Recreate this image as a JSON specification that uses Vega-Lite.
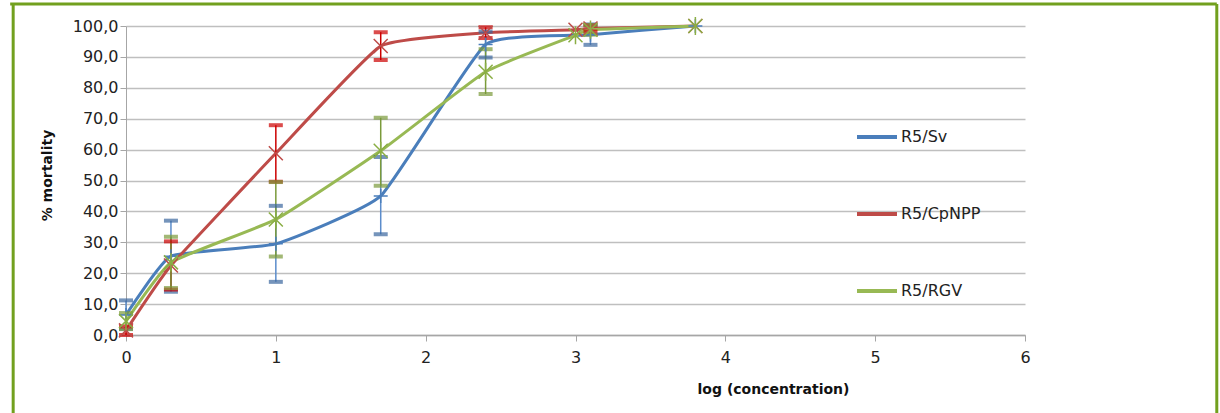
{
  "$schema": "https://vega.github.io/schema/vega-lite/v6.json",
  "width": 899,
  "height": 309,
  "autosize": {"type": "none"},
  "padding": {"left": 126, "top": 26, "right": 195, "bottom": 78},
  "background": "white",
  "config": {
    "view": {"stroke": null},
    "font": "DejaVu Sans",
    "axisX": {
      "grid": false,
      "domainColor": "#A6A6A6", "domainWidth": 1.5,
      "tickColor": "#A6A6A6", "tickSize": 6, "tickWidth": 1,
      "labelFont": "DejaVu Sans", "labelFontSize": 16, "labelColor": "#222222",
      "labelPadding": 8, "labelOverlap": false, "labelFlush": false,
      "titleFont": "DejaVu Sans", "titleFontSize": 14, "titleFontWeight": "bold",
      "titleColor": "#111111"
    },
    "axisY": {
      "grid": true, "gridColor": "#BFBFBF", "gridWidth": 1.5,
      "domainColor": "#A6A6A6", "domainWidth": 1,
      "tickColor": "#A6A6A6", "tickSize": 6,
      "labelFont": "DejaVu Sans", "labelFontSize": 16, "labelColor": "#222222",
      "labelPadding": 2, "labelOverlap": false, "labelFlush": false,
      "titleFont": "DejaVu Sans", "titleFontSize": 14, "titleFontWeight": "bold",
      "titleColor": "#111111"
    }
  },
  "data": {
    "values": [
      {"series": "R5/Sv", "x": 0, "y": 6.5, "lo": 2.0, "hi": 11.2},
      {"series": "R5/Sv", "x": 0.3, "y": 25.5, "lo": 14.0, "hi": 37.0},
      {"series": "R5/Sv", "x": 1, "y": 29.5, "lo": 17.2, "hi": 41.8},
      {"series": "R5/Sv", "x": 1.7, "y": 45.0, "lo": 32.6, "hi": 57.6},
      {"series": "R5/Sv", "x": 2.4, "y": 94.0, "lo": 89.8, "hi": 98.2},
      {"series": "R5/Sv", "x": 3.1, "y": 97.2, "lo": 93.9, "hi": 100.5},
      {"series": "R5/Sv", "x": 3.8, "y": 100.0, "lo": null, "hi": null},
      {"series": "R5/CpNPP", "x": 0, "y": 1.5, "lo": 0.0, "hi": 2.8},
      {"series": "R5/CpNPP", "x": 0.3, "y": 22.5, "lo": 14.7, "hi": 30.3},
      {"series": "R5/CpNPP", "x": 1, "y": 58.8, "lo": 49.6, "hi": 67.9},
      {"series": "R5/CpNPP", "x": 1.7, "y": 93.5, "lo": 89.0, "hi": 98.0},
      {"series": "R5/CpNPP", "x": 2.4, "y": 97.8, "lo": 96.1, "hi": 99.6},
      {"series": "R5/CpNPP", "x": 3.0, "y": 98.8, "lo": null, "hi": null},
      {"series": "R5/CpNPP", "x": 3.1, "y": 99.2, "lo": 98.2, "hi": 100.2},
      {"series": "R5/CpNPP", "x": 3.8, "y": 100.0, "lo": null, "hi": null},
      {"series": "R5/RGV", "x": 0, "y": 4.5, "lo": 1.9, "hi": 7.1},
      {"series": "R5/RGV", "x": 0.3, "y": 23.5, "lo": 15.2, "hi": 31.8},
      {"series": "R5/RGV", "x": 1, "y": 37.4, "lo": 25.4, "hi": 49.5},
      {"series": "R5/RGV", "x": 1.7, "y": 59.6, "lo": 48.3, "hi": 70.3},
      {"series": "R5/RGV", "x": 2.4, "y": 85.2, "lo": 78.0, "hi": 92.5},
      {"series": "R5/RGV", "x": 3.0, "y": 97.0, "lo": null, "hi": null},
      {"series": "R5/RGV", "x": 3.1, "y": 98.8, "lo": 97.2, "hi": 100.3},
      {"series": "R5/RGV", "x": 3.8, "y": 100.0, "lo": null, "hi": null}
    ]
  },
  "layer": [
    {
      "mark": {"type": "line", "strokeWidth": 3, "interpolate": "cardinal", "tension": 0.6},
      "encoding": {
        "x": {
          "field": "x", "type": "quantitative",
          "scale": {"domain": [0, 6], "nice": false, "zero": false},
          "axis": {"values": [0, 1, 2, 3, 4, 5, 6], "format": "d", "title": "log (concentration)", "titleX": 647, "titleY": 54, "titleBaseline": "middle", "titleAlign": "center"}
        },
        "y": {
          "field": "y", "type": "quantitative",
          "scale": {"domain": [0, 100], "nice": false},
          "axis": {"values": [0, 10, 20, 30, 40, 50, 60, 70, 80, 90, 100], "labelExpr": "replace(format(datum.value, '.1f'), '.', ',')", "title": "% mortality", "titleX": -79, "titleY": 149, "titleAngle": 270, "titleAlign": "center", "titleBaseline": "middle"}
        },
        "color": {
          "field": "series", "type": "nominal",
          "scale": {"domain": ["R5/Sv", "R5/CpNPP", "R5/RGV"], "range": ["#4A7EBB", "#BE4B48", "#98B954"]},
          "legend": {
            "title": null,
            "orient": "none",
            "legendX": 729,
            "legendY": 89,
            "symbolType": "stroke",
            "symbolSize": 1600,
            "symbolStrokeWidth": 4,
            "labelFont": "DejaVu Sans",
            "labelFontSize": 16,
            "labelColor": "#222222",
            "labelOffset": 2,
            "rowPadding": 47
          }
        },
        "order": {"field": "x", "type": "quantitative"}
      }
    },
    {
      "transform": [{"filter": "datum.lo != null"}],
      "mark": {"type": "rule", "strokeWidth": 1.5},
      "encoding": {
        "x": {"field": "x", "type": "quantitative", "axis": {"values": [0, 1, 2, 3, 4, 5, 6], "format": "d", "title": "log (concentration)", "titleX": 647, "titleY": 54, "titleBaseline": "middle", "titleAlign": "center"}},
        "y": {"field": "lo", "type": "quantitative", "axis": {"values": [0, 10, 20, 30, 40, 50, 60, 70, 80, 90, 100], "labelExpr": "replace(format(datum.value, '.1f'), '.', ',')", "title": "% mortality", "titleX": -79, "titleY": 149, "titleAngle": 270, "titleAlign": "center", "titleBaseline": "middle"}},
        "y2": {"field": "hi"},
        "stroke": {
          "field": "series", "type": "nominal",
          "scale": {"domain": ["R5/Sv", "R5/CpNPP", "R5/RGV"], "range": ["#5B8CCB", "#CC0000", "#7A9A3A"]},
          "legend": null
        }
      }
    },
    {
      "transform": [{"filter": "datum.lo != null"}],
      "mark": {"type": "tick", "orient": "horizontal", "size": 14, "thickness": 4},
      "encoding": {
        "x": {"field": "x", "type": "quantitative", "axis": {"values": [0, 1, 2, 3, 4, 5, 6], "format": "d", "title": "log (concentration)", "titleX": 647, "titleY": 54, "titleBaseline": "middle", "titleAlign": "center"}},
        "y": {"field": "lo", "type": "quantitative", "axis": {"values": [0, 10, 20, 30, 40, 50, 60, 70, 80, 90, 100], "labelExpr": "replace(format(datum.value, '.1f'), '.', ',')", "title": "% mortality", "titleX": -79, "titleY": 149, "titleAngle": 270, "titleAlign": "center", "titleBaseline": "middle"}},
        "fill": {
          "field": "series", "type": "nominal",
          "scale": {"domain": ["R5/Sv", "R5/CpNPP", "R5/RGV"], "range": ["#3A679E", "#CC0000", "#7A9A3A"]},
          "legend": null
        }
      }
    },
    {
      "transform": [{"filter": "datum.hi != null"}],
      "mark": {"type": "tick", "orient": "horizontal", "size": 14, "thickness": 4},
      "encoding": {
        "x": {"field": "x", "type": "quantitative", "axis": {"values": [0, 1, 2, 3, 4, 5, 6], "format": "d", "title": "log (concentration)", "titleX": 647, "titleY": 54, "titleBaseline": "middle", "titleAlign": "center"}},
        "y": {"field": "hi", "type": "quantitative", "axis": {"values": [0, 10, 20, 30, 40, 50, 60, 70, 80, 90, 100], "labelExpr": "replace(format(datum.value, '.1f'), '.', ',')", "title": "% mortality", "titleX": -79, "titleY": 149, "titleAngle": 270, "titleAlign": "center", "titleBaseline": "middle"}},
        "fill": {
          "field": "series", "type": "nominal",
          "scale": {"domain": ["R5/Sv", "R5/CpNPP", "R5/RGV"], "range": ["#3A679E", "#CC0000", "#7A9A3A"]},
          "legend": null
        }
      }
    },
    {
      "transform": [{"filter": "datum.series == 'R5/Sv'"}],
      "mark": {"type": "point", "shape": "M-1,0L1,0M0,-1L0,1", "filled": false, "strokeWidth": 1.5, "opacity": 1, "size": 196, "color": "#4A7EBB"},
      "encoding": {
        "x": {"field": "x", "type": "quantitative", "axis": {"values": [0, 1, 2, 3, 4, 5, 6], "format": "d", "title": "log (concentration)", "titleX": 647, "titleY": 54, "titleBaseline": "middle", "titleAlign": "center"}},
        "y": {"field": "y", "type": "quantitative", "axis": {"values": [0, 10, 20, 30, 40, 50, 60, 70, 80, 90, 100], "labelExpr": "replace(format(datum.value, '.1f'), '.', ',')", "title": "% mortality", "titleX": -79, "titleY": 149, "titleAngle": 270, "titleAlign": "center", "titleBaseline": "middle"}}
      }
    },
    {
      "transform": [{"filter": "datum.series == 'R5/CpNPP'"}],
      "mark": {"type": "point", "shape": "M-1,-1L1,1M-1,1L1,-1", "filled": false, "strokeWidth": 1.5, "opacity": 1, "size": 196, "color": "#BE4B48"},
      "encoding": {
        "x": {"field": "x", "type": "quantitative", "axis": {"values": [0, 1, 2, 3, 4, 5, 6], "format": "d", "title": "log (concentration)", "titleX": 647, "titleY": 54, "titleBaseline": "middle", "titleAlign": "center"}},
        "y": {"field": "y", "type": "quantitative", "axis": {"values": [0, 10, 20, 30, 40, 50, 60, 70, 80, 90, 100], "labelExpr": "replace(format(datum.value, '.1f'), '.', ',')", "title": "% mortality", "titleX": -79, "titleY": 149, "titleAngle": 270, "titleAlign": "center", "titleBaseline": "middle"}}
      }
    },
    {
      "transform": [{"filter": "datum.series == 'R5/RGV'"}],
      "mark": {"type": "point", "shape": "M-1,-1L1,1M-1,1L1,-1M0,-1.3L0,1.3", "filled": false, "strokeWidth": 1.5, "opacity": 1, "size": 196, "color": "#8AAE44"},
      "encoding": {
        "x": {"field": "x", "type": "quantitative", "axis": {"values": [0, 1, 2, 3, 4, 5, 6], "format": "d", "title": "log (concentration)", "titleX": 647, "titleY": 54, "titleBaseline": "middle", "titleAlign": "center"}},
        "y": {"field": "y", "type": "quantitative", "axis": {"values": [0, 10, 20, 30, 40, 50, 60, 70, 80, 90, 100], "labelExpr": "replace(format(datum.value, '.1f'), '.', ',')", "title": "% mortality", "titleX": -79, "titleY": 149, "titleAngle": 270, "titleAlign": "center", "titleBaseline": "middle"}}
      }
    },
    {
      "data": {"values": [{"part": "frame"}]},
      "mark": {"type": "rule", "color": "#72A01E", "strokeWidth": 3},
      "encoding": {
        "x": {"datum": -0.773, "type": "quantitative", "axis": {"values": [0, 1, 2, 3, 4, 5, 6], "format": "d", "title": "log (concentration)", "titleX": 647, "titleY": 54, "titleBaseline": "middle", "titleAlign": "center"}},
        "x2": {"datum": 7.28},
        "y": {"datum": 107.1, "type": "quantitative", "axis": {"values": [0, 10, 20, 30, 40, 50, 60, 70, 80, 90, 100], "labelExpr": "replace(format(datum.value, '.1f'), '.', ',')", "title": "% mortality", "titleX": -79, "titleY": 149, "titleAngle": 270, "titleAlign": "center", "titleBaseline": "middle"}}
      }
    },
    {
      "data": {"values": [{"part": "frame"}]},
      "mark": {"type": "rule", "color": "#72A01E", "strokeWidth": 3},
      "encoding": {
        "x": {"datum": -0.753, "type": "quantitative", "axis": {"values": [0, 1, 2, 3, 4, 5, 6], "format": "d", "title": "log (concentration)", "titleX": 647, "titleY": 54, "titleBaseline": "middle", "titleAlign": "center"}},
        "y": {"datum": 107.1, "type": "quantitative", "axis": {"values": [0, 10, 20, 30, 40, 50, 60, 70, 80, 90, 100], "labelExpr": "replace(format(datum.value, '.1f'), '.', ',')", "title": "% mortality", "titleX": -79, "titleY": 149, "titleAngle": 270, "titleAlign": "center", "titleBaseline": "middle"}},
        "y2": {"datum": -26}
      }
    },
    {
      "data": {"values": [{"part": "frame"}]},
      "mark": {"type": "rule", "color": "#72A01E", "strokeWidth": 3},
      "encoding": {
        "x": {"datum": 7.28, "type": "quantitative", "axis": {"values": [0, 1, 2, 3, 4, 5, 6], "format": "d", "title": "log (concentration)", "titleX": 647, "titleY": 54, "titleBaseline": "middle", "titleAlign": "center"}},
        "y": {"datum": 107.1, "type": "quantitative", "axis": {"values": [0, 10, 20, 30, 40, 50, 60, 70, 80, 90, 100], "labelExpr": "replace(format(datum.value, '.1f'), '.', ',')", "title": "% mortality", "titleX": -79, "titleY": 149, "titleAngle": 270, "titleAlign": "center", "titleBaseline": "middle"}},
        "y2": {"datum": -26}
      }
    }
  ]
}
